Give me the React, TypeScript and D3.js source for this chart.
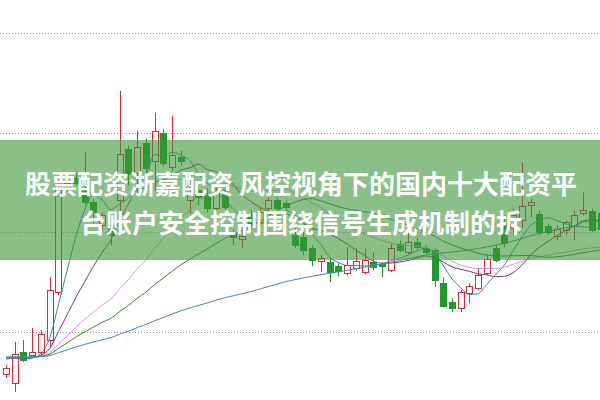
import React from 'react';
import * as d3 from 'd3';

// daily candles (price units: grid lines at 10/12/14/16)
const opens = [
  9.16, 8.98, 9.6, 9.54, 9.6, 9.84, 10.8, 13.0, 13.1, 12.84,
  12.6, 12.14, 12.14, 12.64, 13.68, 13.2, 13.8, 13.44, 14.0, 13.32,
  13.52, 12.64, 12.84, 12.78, 12.48, 12.84, 11.98, 11.86, 12.36, 12.2,
  12.48, 12.64, 12.58, 11.94, 11.9, 11.68, 11.42, 11.4, 11.32, 11.18,
  11.28, 11.2, 11.4, 11.36, 11.24, 11.76, 11.6, 11.8, 11.68, 11.64,
  10.98, 10.6, 10.48, 10.78, 10.88, 11.18, 11.68, 12.18, 12.08, 12.24,
  12.54, 12.36, 12.12, 11.92, 12.04, 12.12, 12.38, 12.42, 12.38,
];
const highs = [
  9.34, 9.8, 9.84, 10.08, 10.04, 11.1, 12.98, 13.14, 13.2, 13.6,
  12.68, 12.4, 12.34, 14.84, 13.74, 14.04, 13.88, 14.4, 14.08, 14.34,
  13.64, 13.04, 12.94, 12.88, 12.88, 12.94, 12.06, 12.08, 12.44, 12.48,
  12.7, 12.7, 12.64, 12.1, 12.0, 11.74, 11.54, 11.48, 11.38, 11.7,
  11.68, 11.68, 11.6, 11.4, 11.78, 11.84, 11.98, 11.88, 11.74, 11.68,
  11.1, 10.68, 10.84, 10.98, 11.28, 11.54, 11.74, 12.34, 12.48, 13.4,
  12.68, 12.44, 12.18, 12.14, 12.24, 12.44, 12.8, 12.48, 12.44,
];
const lows = [
  9.08, 8.8, 9.4, 9.52, 9.54, 9.68, 10.74, 12.8, 12.94, 12.54,
  12.18, 12.04, 11.74, 12.14, 12.94, 12.74, 13.14, 12.84, 13.32, 13.24,
  13.34, 12.38, 12.54, 12.4, 12.4, 12.44, 11.74, 11.68, 12.04, 12.12,
  12.4, 12.4, 12.44, 11.68, 11.54, 11.32, 11.2, 11.0, 11.12, 11.14,
  11.24, 11.16, 11.24, 11.1, 11.2, 11.6, 11.56, 11.66, 11.56, 10.9,
  10.5, 10.4, 10.4, 10.58, 10.84, 11.14, 11.4, 11.7, 11.94, 12.08,
  12.3, 11.94, 11.94, 11.84, 11.94, 11.84, 12.34, 12.0, 12.0,
];
const closes = [
  9.28, 9.56, 9.44, 9.6, 9.96, 10.84, 12.92, 12.88, 13.0, 12.6,
  12.4, 12.34, 11.94, 13.58, 13.18, 13.72, 13.3, 14.04, 13.4, 13.56,
  13.44, 12.78, 12.7, 12.48, 12.78, 12.5, 11.9, 11.92, 12.14, 12.4,
  12.64, 12.48, 12.5, 11.74, 11.64, 11.44, 11.48, 11.2, 11.22, 11.34,
  11.42, 11.44, 11.3, 11.32, 11.68, 11.64, 11.8, 11.7, 11.6, 11.04,
  10.52, 10.48, 10.8, 10.92, 11.14, 11.46, 11.44, 11.78, 12.34, 12.52,
  12.6, 12.0, 12.0, 12.06, 12.2, 12.34, 12.44, 12.04, 12.06,
];

// level the averages start from at the left edge (days before the window)
const priorClose = 9.5;

const maPeriods = [5, 10, 20, 30, 60];
const maColors = ['#2f8f8f', '#7b3b70', '#e58ee5', '#4a7d3a', '#3b8ea6'];

const gridPrices = [10, 12, 14, 16];

const titleLines = [
  '股票配资浙嘉配资 风控视角下的国内十大配资平',
  '台账户安全控制围绕信号生成机制的拆',
];

const W = 600;
const H = 400;
const UP = '#d42c3c';
const DOWN = '#1f9a2a';

function movingAverage(n: number): number[] {
  return closes.map((_, i) => {
    let s = 0;
    for (let k = i - n + 1; k <= i; k++) s += k < 0 ? priorClose : closes[k];
    return s / n;
  });
}

const App: React.FC = () => {
  const idx = d3.range(closes.length);
  const x = d3.scalePoint<number>().domain(idx).range([6, 6 + 8.745 * (closes.length - 1)]);
  const y = d3.scaleLinear().domain([10, 16]).range([332, 33]);

  const line = d3
    .line<number>()
    .x((_, i) => x(i)!)
    .y((d) => y(d))
    .curve(d3.curveMonotoneX);

  return (
    <svg
      width={W}
      height={H}
      style={{ position: 'absolute', left: 0, top: 0, background: '#fff' }}
    >
      {gridPrices.map((p) => (
        <line
          key={p}
          x1={0}
          x2={W}
          y1={Math.round(y(p)) + 0.5}
          y2={Math.round(y(p)) + 0.5}
          stroke="#9a9a9a"
          strokeDasharray="1,2"
        />
      ))}

      {idx.map((i) => {
        const cx = Math.round(x(i)!);
        const up = closes[i] >= opens[i];
        const col = up ? UP : DOWN;
        const top = Math.round(y(Math.max(opens[i], closes[i])));
        const bot = Math.round(y(Math.min(opens[i], closes[i])));
        const h = Math.max(1, bot - top);
        return (
          <g key={i}>
            <line
              x1={cx + 0.5}
              x2={cx + 0.5}
              y1={y(highs[i])}
              y2={y(lows[i])}
              stroke={col}
              strokeWidth={1}
            />
            {up ? (
              <rect x={cx - 2.5} y={top + 0.5} width={6} height={h} fill="#fff" stroke={col} />
            ) : (
              <rect x={cx - 3} y={top} width={7} height={h + 1} fill={col} />
            )}
          </g>
        );
      })}

      {maPeriods.map((n, k) => (
        <path key={n} d={line(movingAverage(n)) ?? ''} fill="none" stroke={maColors[k]} strokeWidth={1} />
      ))}

      <rect x={0} y={140} width={W} height={120} fill="rgb(60,150,55)" opacity={0.6} />

      {titleLines.map((t, k) => (
        <text
          key={k}
          x={301}
          y={182 + k * 39}
          textAnchor="middle"
          dominantBaseline="central"
          fill="#fff"
          fontFamily="'Noto Sans CJK SC', 'Noto Sans', sans-serif"
          fontWeight={700}
          fontSize={26}
        >
          {t}
        </text>
      ))}
    </svg>
  );
};

export default App;
